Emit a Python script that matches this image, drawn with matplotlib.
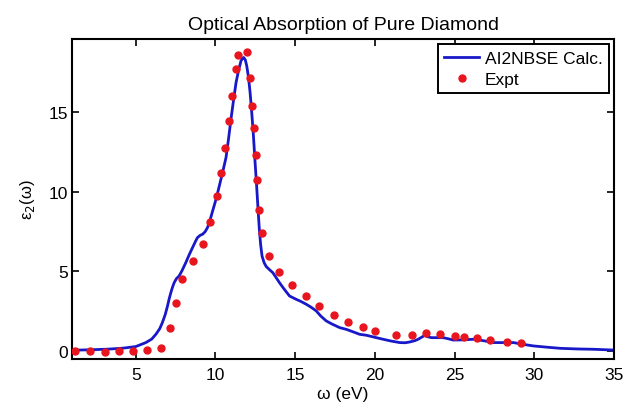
import matplotlib
matplotlib.use("Agg")
import matplotlib.pyplot as plt

# calculated spectrum
calc_w = [1.0, 2.2, 3.3, 4.2, 5.0, 5.63, 6.0, 6.26, 6.5, 6.67, 6.85, 6.99, 7.1, 7.2, 7.3, 7.41,
          7.55, 7.72, 7.9, 8.14, 8.35, 8.56, 8.75, 8.87, 9.05, 9.19, 9.35, 9.5, 9.65, 9.82,
          10.05, 10.24, 10.45, 10.66, 10.82, 10.97, 11.13, 11.29, 11.45, 11.6, 11.7, 11.77,
          11.87, 11.96, 12.07, 12.17, 12.28, 12.38, 12.48, 12.58, 12.67, 12.75, 12.83, 12.92,
          13.05, 13.18, 13.4, 13.59, 13.8, 14.01, 14.3, 14.64, 15.06, 15.35, 15.69, 16.0,
          16.32, 16.6, 16.95, 17.3, 17.79, 18.21, 18.7, 19.04, 19.47, 20.0, 20.51, 21.0,
          21.56, 21.9, 22.19, 22.5, 22.71, 22.95, 23.13, 23.3, 23.55, 23.9, 24.28, 24.6,
          24.91, 25.5, 26.17, 26.8, 27.43, 28.1, 28.69, 29.3, 29.94, 30.8, 31.62, 32.7,
          33.72, 35.0]
calc_e2 = [0.05, 0.08, 0.12, 0.18, 0.28, 0.53, 0.75, 1.05, 1.4, 1.79, 2.3, 2.83, 3.3, 3.67, 4.0, 4.3,
           4.55, 4.72, 5.05, 5.56, 6.05, 6.5, 6.9, 7.13, 7.28, 7.34, 7.5, 7.76, 8.2, 8.8,
           9.6, 10.38, 11.25, 12.16, 13.35, 14.57, 15.75, 16.88, 17.65, 18.24, 18.4, 18.45,
           18.3, 17.92, 17.2, 16.25, 14.9, 13.52, 11.9, 10.38, 8.9, 7.65, 6.7, 5.97,
           5.55, 5.31, 5.1, 4.93, 4.62, 4.3, 3.9, 3.46, 3.25, 3.12, 2.94, 2.75,
           2.52, 2.2, 1.89, 1.7, 1.47, 1.36, 1.18, 1.05, 0.99, 0.86, 0.74, 0.63,
           0.53, 0.52, 0.57, 0.65, 0.74, 0.88, 0.99, 0.9, 0.84, 0.84, 0.84, 0.77,
           0.69, 0.7, 0.74, 0.65, 0.53, 0.53, 0.53, 0.42, 0.32, 0.24, 0.17, 0.13,
           0.11, 0.06]

# experimental points
expt_w = [1.18, 2.13, 3.07, 3.97, 4.85, 5.73, 6.61, 7.16, 7.51, 7.89, 8.58, 9.19, 9.65,
          10.09, 10.37, 10.57, 10.82, 11.01, 11.29, 11.42, 11.96, 12.17, 12.3, 12.4, 12.52,
          12.63, 12.74, 12.94, 13.34, 13.99, 14.81, 15.67, 16.51, 17.41, 18.33, 19.23,
          20.03, 21.35, 22.33, 23.18, 24.06, 25.0, 25.57, 26.38, 27.2, 28.27, 29.17]
expt_e2 = [0.0, 0.0, -0.03, 0.0, 0.0, 0.05, 0.2, 1.43, 3.0, 4.55, 5.66, 6.75, 8.11,
           9.73, 11.22, 12.77, 14.47, 16.06, 17.72, 18.6, 18.81, 17.15, 15.39, 13.99, 12.33,
           10.78, 8.87, 7.42, 5.96, 4.99, 4.13, 3.48, 2.83, 2.29, 1.85, 1.53,
           1.24, 0.99, 0.99, 1.13, 1.05, 0.94, 0.9, 0.8, 0.69, 0.59, 0.53]

plt.rcParams["font.family"] = ["Liberation Sans", "DejaVu Sans"]

fig = plt.figure(figsize=(6.26, 4.1), dpi=100)
ax = fig.add_axes([0.115, 0.122, 0.866, 0.780])

ax.plot(calc_w, calc_e2, color="#1818c8", lw=2.0, label="AI2NBSE Calc.", zorder=2)
ax.plot(expt_w, expt_e2, ls="none", marker="o", ms=5, color="#e8141e",
        mec="#e8141e", label="Expt", zorder=3)

ax.set_xlim(1, 35)
ax.set_ylim(-0.5, 19.6)
ax.set_xticks([5, 10, 15, 20, 25, 30, 35])
ax.set_yticks([0, 5, 10, 15])
ax.tick_params(direction="in", top=True, right=True, length=5, width=1.2,
               labelsize=12.5)
ax.tick_params(axis="x", pad=6)
ax.tick_params(axis="y", pad=3)
for sp in ax.spines.values():
    sp.set_linewidth(1.5)

ax.set_title("Optical Absorption of Pure Diamond", fontsize=14, pad=7)
ax.set_xlabel("ω (eV)", fontsize=12.5, labelpad=3)
ax.set_ylabel("ε$_2$(ω)", fontsize=12, labelpad=8)

leg = ax.legend(loc="upper right", fontsize=12.5, fancybox=False, framealpha=1,
                edgecolor="black", borderaxespad=0.3, handlelength=2.0,
                handletextpad=0.35, borderpad=0.35, labelspacing=0.35)
leg.get_frame().set_linewidth(1.4)

fig.savefig("out.png", dpi=100)
